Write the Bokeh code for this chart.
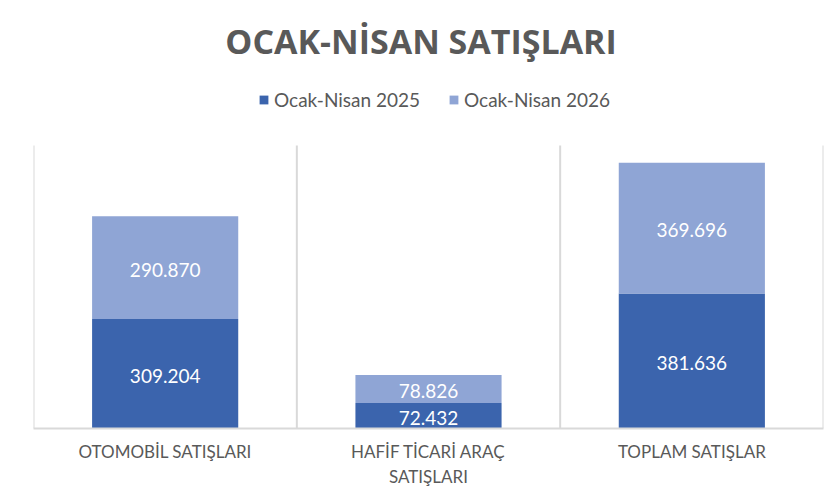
from bokeh.plotting import figure
from bokeh.models import ColumnDataSource, Legend, LegendItem, Label, Range1d, FactorRange
from bokeh.transform import dodge
from bokeh.core.properties import value
from bokeh.embed import file_html
from bokeh.resources import INLINE

categories = ["OTOMOBİL SATIŞLARI", "HAFİF TİCARİ ARAÇ\nSATIŞLARI", "TOPLAM SATIŞLAR"]
series_names = ["Ocak-Nisan 2025", "Ocak-Nisan 2026"]
sales_2025 = [309204, 72432, 381636]
sales_2026 = [290870, 78826, 369696]
title_text = "OCAK-NİSAN  SATIŞLARI"
axis_max = 800000

dark = "#3B64AD"
light = "#8FA5D5"
grey_text = "#595959"
grid_col = "#D9D9D9"
font = "Lato"

# layout (pixels)
W, H = 830, 496
frame_left, frame_right_pad = 33, 7
plot_top, plot_bottom = 145, 428        # top of grid area and bottom axis
frame_h = plot_bottom                   # frame starts at top of canvas
y_end = axis_max * frame_h / (plot_bottom - plot_top)

def tr(v):
    return f"{v:,}".replace(",", ".")

src = ColumnDataSource(dict(
    cat=categories,
    s25=sales_2025,
    s26=sales_2026,
    mid25=[v / 2 for v in sales_2025],
    mid26=[a + b / 2 for a, b in zip(sales_2025, sales_2026)],
    lab25=[tr(v) for v in sales_2025],
    lab26=[tr(v) for v in sales_2026],
))

p = figure(width=W, height=H, x_range=FactorRange(*categories, range_padding=0),
           y_range=Range1d(0, y_end), output_backend="svg", toolbar_location=None,
           min_border_left=frame_left, min_border_right=frame_right_pad,
           min_border_top=0, min_border_bottom=H - plot_bottom)
p.outline_line_color = None
p.background_fill_color = "white"
p.border_fill_color = "white"
p.grid.visible = False
p.yaxis.visible = False

ax = p.xaxis[0]
ax.axis_line_color = grid_col
ax.axis_line_width = 2
ax.major_tick_line_color = None
ax.minor_tick_line_color = None
ax.major_label_text_color = grey_text
ax.major_label_text_font = font
ax.major_label_text_font_size = "17px"
ax.major_label_standoff = 6

# category separators
p.segment(x0=dodge("cat", -0.5, range=p.x_range), y0=0, x1=dodge("cat", -0.5, range=p.x_range), y1=axis_max,
          source=src, line_color=grid_col, line_width=2)
last = ColumnDataSource(dict(cat=[categories[-1]]))
p.segment(x0=dodge("cat", 0.5, range=p.x_range), y0=0, x1=dodge("cat", 0.5, range=p.x_range), y1=axis_max,
          source=last, line_color=grid_col, line_width=2)

rs = p.vbar_stack(["s25", "s26"], x="cat", width=0.555, color=[dark, light], line_color=None, source=src)

p.text(x="cat", y="mid25", text="lab25", source=src, text_color="white", text_font=value(font),
       text_font_size="19px", text_align="center", text_baseline="middle", y_offset=2)
p.text(x="cat", y="mid26", text="lab26", source=src, text_color="white", text_font=value(font),
       text_font_size="19px", text_align="center", text_baseline="middle", y_offset=2)

legend = Legend(items=[LegendItem(label=series_names[0], renderers=[rs[0]]),
                       LegendItem(label=series_names[1], renderers=[rs[1]])],
                orientation="horizontal", location=(225, plot_bottom - 111),
                label_text_font=font, label_text_font_size="19px", label_text_color=grey_text,
                glyph_width=11, glyph_height=11, label_standoff=5, spacing=28,
                padding=0, margin=0, border_line_color=None, background_fill_alpha=0,
                label_height=20)
p.add_layout(legend, "center")

p.add_layout(Label(x=392, y=plot_bottom - 40, x_units="screen", y_units="screen", text=title_text,
                   text_font="Open Sans", text_font_style="bold", text_font_size="34px",
                   text_color=grey_text, text_align="center", text_baseline="middle"))

open("out.html", "w").write(file_html(p, INLINE))
